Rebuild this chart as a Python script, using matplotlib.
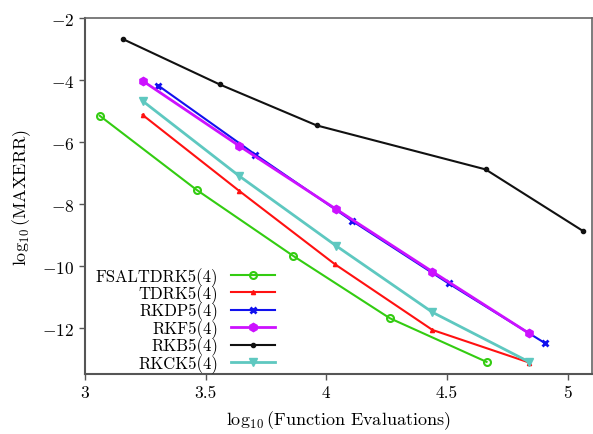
import matplotlib
matplotlib.use("Agg")
import matplotlib.pyplot as plt

plt.rcParams['font.family'] = 'serif'
plt.rcParams['font.serif'] = ['cmr10', 'DejaVu Serif']
plt.rcParams['mathtext.fontset'] = 'cm'
plt.rcParams['axes.formatter.use_mathtext'] = True
plt.rcParams['axes.unicode_minus'] = True

labels = ["FSALTDRK5(4)", "TDRK5(4)", "RKDP5(4)", "RKF5(4)", "RKB5(4)", "RKCK5(4)"]

fsal_x = [3.062, 3.463, 3.863, 4.263, 4.664]
fsal_y = [-5.15, -7.54, -9.67, -11.68, -13.09]
tdrk_x = [3.239, 3.639, 4.036, 4.440, 4.840]
tdrk_y = [-5.12, -7.57, -9.94, -12.06, -13.11]
rkdp_x = [3.305, 3.706, 4.105, 4.507, 4.907]
rkdp_y = [-4.18, -6.40, -8.53, -10.56, -12.49]
rkf_x = [3.239, 3.639, 4.040, 4.440, 4.840]
rkf_y = [-4.02, -6.12, -8.16, -10.18, -12.17]
rkb_x = [3.159, 3.559, 3.960, 4.660, 5.062]
rkb_y = [-2.68, -4.14, -5.46, -6.88, -8.86]
rkck_x = [3.239, 3.639, 4.040, 4.440, 4.840]
rkck_y = [-4.67, -7.09, -9.34, -11.49, -13.09]

xticks = [3, 3.5, 4, 4.5, 5]
xticklabels = ["3", "3.5", "4", "4.5", "5"]
yticks = [-2, -4, -6, -8, -10, -12]

fig = plt.figure(figsize=(5.93, 4.35), dpi=100)
ax = fig.add_axes([0.143, 0.138, 0.855, 0.818])

ax.plot(fsal_x, fsal_y, color='#33cc11', lw=1.5, marker='o', ms=5, mfc='none', mew=1.5, label=labels[0])
ax.plot(tdrk_x, tdrk_y, color='#ff1111', lw=1.5, marker='^', ms=3, label=labels[1])
ax.plot(rkdp_x, rkdp_y, color='#1111ee', lw=1.5, marker='x', ms=5, mew=2, label=labels[2])
ax.plot(rkf_x, rkf_y, color='#cc11ff', lw=2, marker='h', ms=6, label=labels[3])
ax.plot(rkb_x, rkb_y, color='#111111', lw=1.5, marker='.', ms=6, label=labels[4])
ax.plot(rkck_x, rkck_y, color='#5ec8c0', lw=2, marker='v', ms=6, label=labels[5])

ax.set_xlim(3, 5.1)
ax.set_ylim(-13.48, -2)
ax.set_xticks(xticks)
ax.set_xticklabels(xticklabels)
ax.set_yticks(yticks)
ax.set_yticklabels([r"$-%d$" % (-v) for v in yticks])

for s in ['top', 'right']:
    ax.spines[s].set_color('#666666')
    ax.spines[s].set_linewidth(1.2)
for s in ['left', 'bottom']:
    ax.spines[s].set_color('#555555')
    ax.spines[s].set_linewidth(1.5)
ax.tick_params(axis='both', direction='out', length=4, width=1, color='#555555', labelsize=12.5, top=False, right=False)

ax.set_xlabel(r"$\log_{10}$(Function Evaluations)", fontsize=13, labelpad=6)
ax.set_ylabel(r"$\log_{10}$(MAXERR)", fontsize=13, labelpad=7)

leg = ax.legend(loc='lower left', frameon=False, markerfirst=False, fontsize=12,
                handlelength=2.6, handletextpad=0.8, labelspacing=-0.08,
                borderaxespad=0.0, bbox_to_anchor=(0.008, -0.015))

fig.savefig("out.png", dpi=100)
